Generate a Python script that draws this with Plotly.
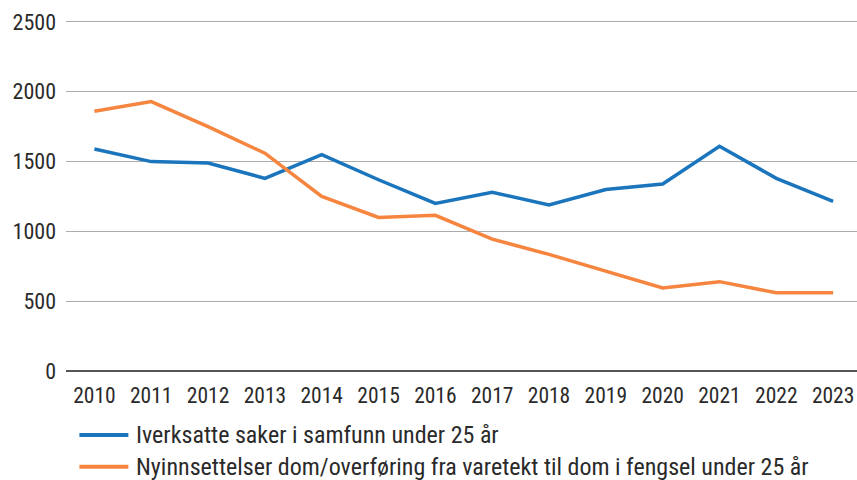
import plotly.graph_objects as go

years = ["2010", "2011", "2012", "2013", "2014", "2015", "2016",
         "2017", "2018", "2019", "2020", "2021", "2022", "2023"]
samfunn = [1590, 1500, 1490, 1380, 1550, 1370, 1200,
           1280, 1190, 1300, 1340, 1610, 1380, 1215]
fengsel = [1860, 1930, 1750, 1560, 1250, 1100, 1115,
           945, 835, 715, 595, 640, 560, 560]
names = ["Iverksatte saker i samfunn under 25 år",
         "Nyinnsettelser dom/overføring fra varetekt til dom i fengsel under 25 år"]
colors = ["#1B75BC", "#F5853F"]
yticks = [0, 500, 1000, 1500, 2000, 2500]

FONT = "Liberation Sans Narrow, Arial Narrow, Roboto Condensed, DejaVu Sans Condensed, sans-serif"
TXT = "#2a2a2a"
W, H = 857, 480
ML, MR = 65.6, 0
MB = 480 - 371
YTOP = 2550
MT = 21.5 - (YTOP - 2500) * 0.14

fig = go.Figure()
for vals, name, col in zip([samfunn, fengsel], names, colors):
    fig.add_trace(go.Scatter(x=years, y=vals, name=name, mode="lines",
                             line=dict(color=col, width=3.5),
                             showlegend=False, hoverinfo="skip"))

pw = W - ML - MR
ph = H - MT - MB
def px_x(x):
    return (x - ML) / pw
def px_y(y):
    return (H - MB - y) / ph

shapes = []
annotations = []
for i, (name, col) in enumerate(zip(names, colors)):
    yy = 435 + i * 32
    shapes.append(dict(type="line", xref="paper", yref="paper",
                       x0=px_x(79), x1=px_x(128), y0=px_y(yy), y1=px_y(yy),
                       line=dict(color=col, width=4)))
    annotations.append(dict(xref="paper", yref="paper", x=px_x(135), y=px_y(yy),
                            xanchor="left", yanchor="middle", showarrow=False,
                            borderpad=0,
                            text=name, font=dict(family=FONT, size=24, color=TXT)))

fig.update_layout(
    width=W, height=H,
    margin=dict(l=ML, r=MR, t=MT, b=MB),
    paper_bgcolor="white", plot_bgcolor="white",
    font=dict(family=FONT, size=22, color=TXT),
    xaxis=dict(type="category", range=[-0.5, 13.42], showgrid=False,
               showline=False, ticks="", tickfont=dict(size=21.5),
               ticklabelstandoff=9, fixedrange=True),
    yaxis=dict(range=[0, YTOP], tickvals=yticks, showgrid=True,
               gridcolor="#ABABAB", gridwidth=1, zeroline=True,
               zerolinecolor="#555555", zerolinewidth=2,
               ticks="", ticklabelstandoff=9, tickfont=dict(size=22),
               showline=False, fixedrange=True),
    shapes=shapes,
    annotations=annotations,
)

fig.write_html("out.html",
               config={"displayModeBar": False, "staticPlot": True},
               post_script="document.body.style.margin='0';document.body.style.overflow='hidden';")
